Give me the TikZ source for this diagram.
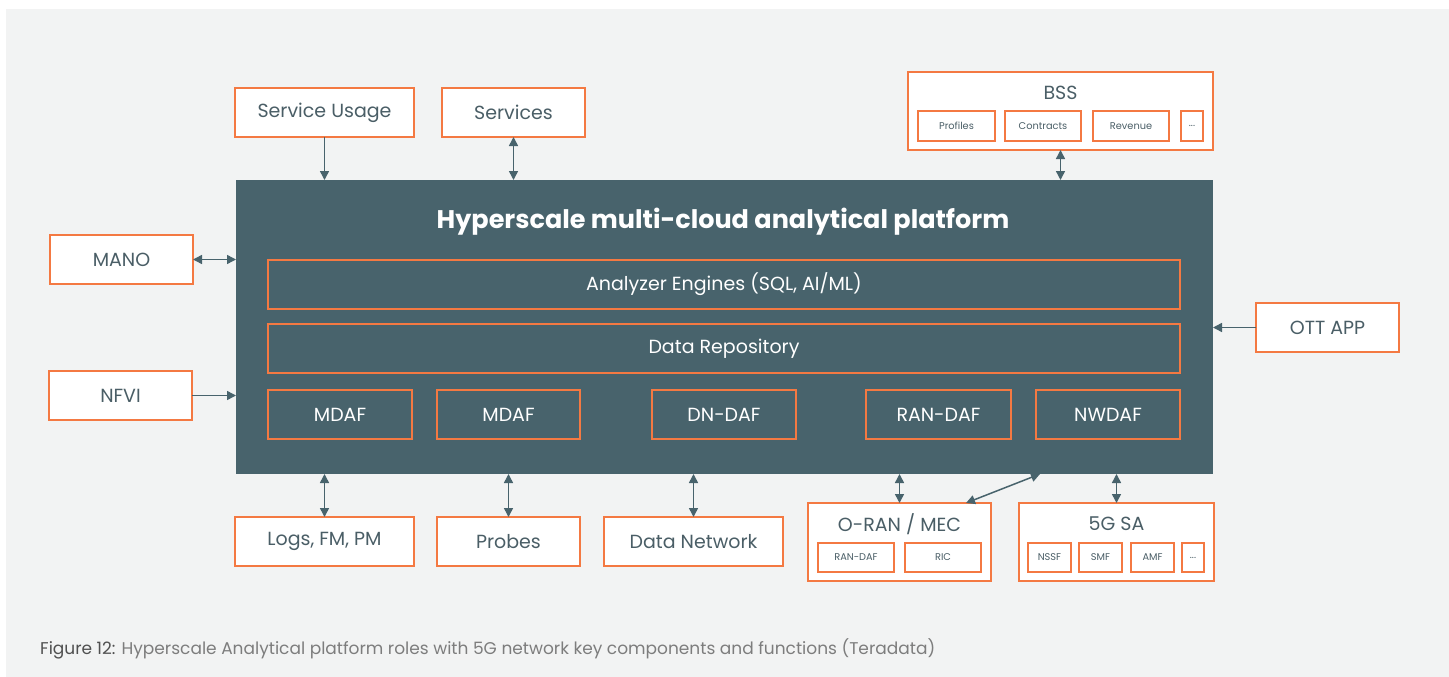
\documentclass[tikz,border=0pt]{standalone}
\usepackage{fontspec}
\setmainfont{Poppins}
\usetikzlibrary{arrows.meta,calc}
\definecolor{bgray}{RGB}{242,243,243}
\definecolor{slate}{RGB}{72,99,108}
\definecolor{txt}{RGB}{74,94,102}
\definecolor{org}{RGB}{244,121,66}
\definecolor{capdark}{RGB}{80,80,80}
\definecolor{caplight}{RGB}{125,125,125}
\tikzset{
  outbox/.style={draw=org, line width=1.8pt, fill=white, inner sep=0pt, outer sep=0pt, text=txt, font=\fontsize{19}{22}\selectfont},
  inbox/.style={draw=org, line width=1.8pt, inner sep=0pt, outer sep=0pt, text=white, font=\fontsize{19}{22}\selectfont},
  smallbox/.style={draw=org, line width=1.6pt, fill=white, inner sep=0pt, outer sep=0pt, text=txt, font=\fontsize{9.8}{11}\selectfont},
  grouptitle/.style={text=txt, font=\fontsize{19}{22}\selectfont, inner sep=0pt},
  conn/.style={draw=slate, line width=1.5pt, -{Triangle[length=9pt,width=9pt]}},
  conn2/.style={draw=slate, line width=1.5pt, {Triangle[length=9pt,width=9pt]}-{Triangle[length=9pt,width=9pt]}},
}
\newcommand\bnode[7][]{%
  \pgfmathsetmacro\bcx{(#3+#5)/2}\pgfmathsetmacro\bcy{(#4+#6)/2}%
  \pgfmathsetmacro\bw{#5-#3}\pgfmathsetmacro\bh{#6-#4}%
  \node[#1, minimum width=\bw pt, minimum height=\bh pt] (#2) at (\bcx,\bcy) {#7};}
\begin{document}
\begin{tikzpicture}[x=1pt,y=-1pt]
\useasboundingbox (0,0) rectangle (1449,677);
\fill[white] (0,0) rectangle (1449,677);
\fill[bgray] (6,9) rectangle (1449,677);

% platform
\bnode[fill=slate, inner sep=0pt, outer sep=0pt]{plat}{236}{180}{1213}{474}{}
\node[text=white, font=\bfseries\fontsize{25.5}{28}\selectfont, inner sep=0pt] (ptitle) at (723,222) {Hyperscale multi-cloud analytical platform};
\bnode[inbox]{ana}{268}{260}{1180}{309}{Analyzer Engines (SQL, AI/ML)}
\bnode[inbox]{repo}{268}{324}{1180}{373}{Data Repository}
\bnode[inbox]{mdafa}{268}{390}{412}{439}{MDAF}
\bnode[inbox]{mdafb}{437}{390}{580}{439}{MDAF}
\bnode[inbox]{dndaf}{652}{390}{796}{439}{DN-DAF}
\bnode[inbox]{randaf}{866}{390}{1011}{439}{RAN-DAF}
\bnode[inbox]{nwdaf}{1036}{390}{1180}{439}{NWDAF}

% top
\bnode[outbox]{su}{235}{88}{414}{137}{Service Usage}
\bnode[outbox]{sv}{442}{88}{585}{137}{Services}
\bnode[outbox]{bss}{908}{72}{1213}{150}{}
\node[grouptitle] (bsst) at (1060.5,93) {BSS};
\bnode[smallbox]{prof}{918}{111}{995}{141}{Profiles}
\bnode[smallbox]{contr}{1005}{111}{1081}{141}{Contracts}
\bnode[smallbox]{rev}{1093}{111}{1169}{141}{Revenue}
\bnode[smallbox]{bdots}{1181}{111}{1203}{141}{...}

% left / right
\bnode[outbox]{mano}{50}{235}{193}{284}{MANO}
\bnode[outbox]{nfvi}{49}{371}{192}{420}{NFVI}
\bnode[outbox]{ott}{1256}{303}{1399}{352}{OTT APP}

% bottom
\bnode[outbox]{logs}{235}{517}{414}{566}{Logs, FM, PM}
\bnode[outbox]{probes}{437}{517}{580}{566}{Probes}
\bnode[outbox]{dn}{604}{517}{783}{566}{Data Network}
\bnode[outbox]{oran}{808}{503}{991}{581}{}
\node[grouptitle] (orant) at (899.5,524) {O-RAN / MEC};
\bnode[smallbox]{oranraf}{818}{543}{894}{572}{RAN-DAF}
\bnode[smallbox]{ric}{905}{543}{981}{572}{RIC}
\bnode[outbox]{fgsa}{1019}{503}{1214}{581}{}
\node[grouptitle] (fgsat) at (1116.5,524) {5G SA};
\bnode[smallbox]{nssf}{1028}{543}{1071}{572}{NSSF}
\bnode[smallbox]{smf}{1079}{543}{1122}{572}{SMF}
\bnode[smallbox]{amf}{1131}{543}{1174}{572}{AMF}
\bnode[smallbox]{sdots}{1182}{543}{1204}{572}{...}

% connectors
\draw[conn] (su.south) -- (su.south |- plat.north);
\draw[conn2] (sv.south) -- (sv.south |- plat.north);
\draw[conn2] (bss.south) -- (bss.south |- plat.north);
\draw[conn2] (mano.east) -- (mano.east -| plat.west);
\draw[conn] (nfvi.east) -- (nfvi.east -| plat.west);
\draw[conn] (ott.west) -- (ott.west -| plat.east);
\draw[conn2] (logs.north |- plat.south) -- (logs.north);
\draw[conn2] (probes.north |- plat.south) -- (probes.north);
\draw[conn2] (dn.north |- plat.south) -- (dn.north);
\draw[conn2] (oran.north |- plat.south) -- (oran.north);
\draw[conn2] ([xshift=-173pt]plat.south east) -- ([xshift=-25pt]oran.north east);
\draw[conn2] (fgsa.north |- plat.south) -- (fgsa.north);

% caption
\node[anchor=west, inner sep=0pt, font=\fontsize{17}{20}\selectfont] (cap) at (40,649)
  {\textcolor{capdark}{Figure 12:} \textcolor{caplight}{Hyperscale Analytical platform roles with 5G network key components and functions (Teradata)}};
\end{tikzpicture}
\end{document}
